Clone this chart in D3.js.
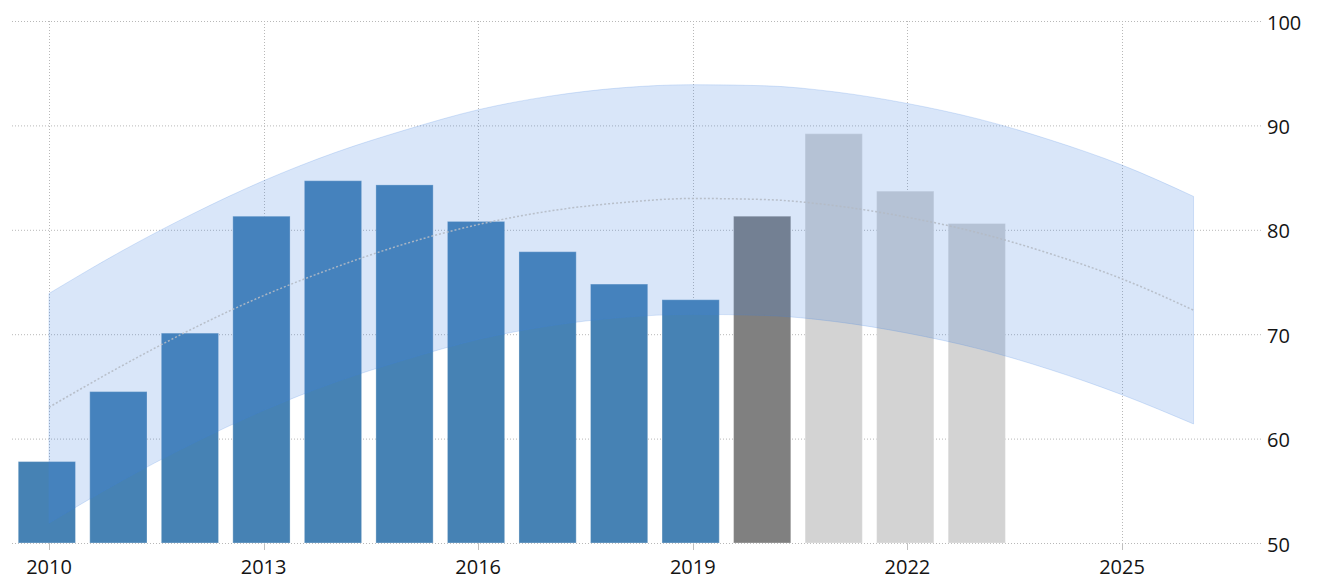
<!DOCTYPE html>
<html>
<head>
<meta charset="utf-8">
<script src="https://cdn.jsdelivr.net/npm/d3@7/dist/d3.min.js"></script>
<style>
  html, body { margin: 0; padding: 0; background: #fff; }
  svg { display: block; }
  text { font-family: "Open Sans", "Liberation Sans", sans-serif; font-size: 20px; fill: #141414; }
</style>
</head>
<body>
<svg id="chart" width="1317" height="579"></svg>
<script>
// ---- data ----
const years = [2010, 2011, 2012, 2013, 2014, 2015, 2016, 2017, 2018, 2019, 2020, 2021, 2022, 2023];
const values = [57.8, 64.5, 70.1, 81.3, 84.7, 84.3, 80.8, 77.9, 74.8, 73.3, 81.3, 89.2, 83.7, 80.6];
const barKinds = ["actual", "actual", "actual", "actual", "actual", "actual", "actual", "actual", "actual", "actual", "latest", "forecast", "forecast", "forecast"];

const trendYears = [2010, 2011, 2012, 2013, 2014, 2015, 2016, 2017, 2018, 2019, 2020, 2021, 2022, 2023, 2024, 2025, 2026];
const trendMid   = [63.0, 66.9, 70.5, 73.7, 76.4, 78.7, 80.5, 81.8, 82.6, 83.0, 82.9, 82.3, 81.2, 79.7, 77.7, 75.3, 72.3];
const trendUpper = [73.9, 77.9, 81.5, 84.7, 87.4, 89.6, 91.5, 92.8, 93.6, 93.9, 93.8, 93.2, 92.1, 90.6, 88.6, 86.2, 83.2];
const trendLower = [51.9, 55.9, 59.5, 62.7, 65.4, 67.6, 69.5, 70.8, 71.6, 71.9, 71.8, 71.2, 70.1, 68.6, 66.6, 64.2, 61.4];

const yTicks = [50, 60, 70, 80, 90, 100];
const xTicks = [2010, 2013, 2016, 2019, 2022, 2025];

// ---- layout ----
const svg = d3.select("#chart");
const plotLeft = 12, plotRight = 1263;
const x = d3.scaleLinear().domain([2010, 2025]).range([49, 1122]);
const y = d3.scaleLinear().domain([50, 100]).range([543, 21]);
const step = x(2011) - x(2010);
const barW = step * 0.80;
const barShift = -0.03;

const colors = { actual: "#4682b4", latest: "#808080", forecast: "#d3d3d3" };

// gridlines
const grid = svg.append("g");
grid.selectAll("line.h").data(yTicks).join("line")
  .attr("x1", plotLeft).attr("x2", plotRight)
  .attr("y1", d => y(d) + 0.5).attr("y2", d => y(d) + 0.5)
  .attr("stroke", "#b8b8b8").attr("stroke-width", 1).attr("stroke-dasharray", "1,2");
grid.selectAll("line.v").data(xTicks).join("line")
  .attr("x1", d => Math.round(x(d)) + 0.5).attr("x2", d => Math.round(x(d)) + 0.5)
  .attr("y1", y(100)).attr("y2", y(50))
  .attr("stroke", "#b8b8b8").attr("stroke-width", 1).attr("stroke-dasharray", "1,2");
grid.selectAll("line.t").data(xTicks).join("line")
  .attr("x1", d => Math.round(x(d)) + 0.5).attr("x2", d => Math.round(x(d)) + 0.5)
  .attr("y1", y(50)).attr("y2", y(50) + 7)
  .attr("stroke", "#c0c0c0").attr("stroke-width", 1);

// bars
const data = years.map((yr, i) => ({ year: yr, value: values[i], kind: barKinds[i] }));
svg.append("g").selectAll("rect").data(data).join("rect")
  .attr("x", d => x(d.year + barShift) - barW / 2)
  .attr("width", barW)
  .attr("y", d => y(d.value))
  .attr("height", d => y(50) - y(d.value))
  .attr("fill", d => colors[d.kind])
  .attr("stroke", "rgba(255,255,255,0.3)")
  .attr("stroke-width", 1);

// trend band
const trend = trendYears.map((yr, i) => ({ year: yr, mid: trendMid[i], up: trendUpper[i], lo: trendLower[i] }));
const area = d3.area()
  .x(d => x(d.year))
  .y0(d => y(d.lo))
  .y1(d => y(d.up))
  .curve(d3.curveMonotoneX);
svg.append("path").datum(trend)
  .attr("d", area)
  .attr("fill", "rgb(66,130,225)")
  .attr("fill-opacity", 0.2)
  .attr("stroke", "rgb(66,130,225)")
  .attr("stroke-opacity", 0.2)
  .attr("stroke-width", 1);

const midLine = d3.line().x(d => x(d.year)).y(d => y(d.mid)).curve(d3.curveMonotoneX);
svg.append("path").datum(trend)
  .attr("d", midLine)
  .attr("fill", "none")
  .attr("stroke", "#b4bac4")
  .attr("stroke-opacity", 0.9)
  .attr("stroke-width", 1.5)
  .attr("stroke-dasharray", "2,2");

// axis labels
svg.append("g").selectAll("text").data(xTicks).join("text")
  .attr("x", d => x(d))
  .attr("y", 566)
  .attr("text-anchor", "middle")
  .attr("dominant-baseline", "central")
  .text(d => d);

svg.append("g").selectAll("text").data(yTicks).join("text")
  .attr("x", 1267)
  .attr("y", d => y(d) + 1)
  .attr("text-anchor", "start")
  .attr("dominant-baseline", "central")
  .text(d => d);
</script>
</body>
</html>
